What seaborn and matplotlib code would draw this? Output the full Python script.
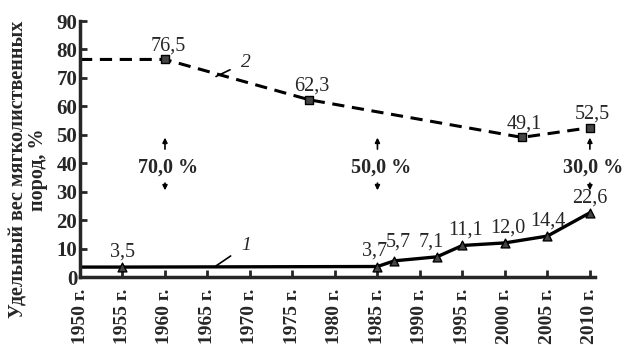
import matplotlib
matplotlib.use('Agg')
import matplotlib.pyplot as plt
import seaborn as sns
import pandas as pd

# Data
years_2 = [1950, 1960, 1977, 2002, 2010]
share_2 = [76.5, 76.5, 62.3, 49.1, 52.5]
years_1 = [1950, 1955, 1985, 1987, 1992, 1995, 2000, 2005, 2010]
share_1 = [3.5, 3.5, 3.7, 5.7, 7.1, 11.1, 12.0, 14.4, 22.6]
labels_2 = ['76,5', '62,3', '49,1', '52,5']
labels_1 = ['3,5', '3,7', '5,7', '7,1', '11,1', '12,0', '14,4', '22,6']
gap_years = [1960, 1985, 2010]
gap_labels = ['70,0 %', '50,0 %', '30,0 %']
xticks = list(range(1950, 2011, 5))
xticklabels = [f'{y} г.' for y in xticks]
yticks = list(range(0, 91, 10))

df2 = pd.DataFrame({'year': years_2, 'share': share_2})
df1 = pd.DataFrame({'year': years_1, 'share': share_1})

sns.set_style('ticks')
plt.rcParams['font.family'] = ['Liberation Serif', 'DejaVu Serif']

fig = plt.figure(figsize=(6.25, 3.45), dpi=100)
ax = fig.add_axes([0.128, 0.197, 0.824, 0.742])

sns.lineplot(data=df2, x='year', y='share', ax=ax, color='black',
             linewidth=2.2, dashes=False, linestyle=(0, (4, 2.5)))
sns.scatterplot(data=df2.iloc[1:], x='year', y='share', ax=ax, marker='s',
                s=40, color='#444444', edgecolor='black', linewidth=1, zorder=3)
sns.lineplot(data=df1, x='year', y='share', ax=ax, color='black', linewidth=2.4)
sns.scatterplot(data=df1.iloc[1:], x='year', y='share', ax=ax, marker='^',
                s=40, color='#444444', edgecolor='black', linewidth=1, zorder=3)

# value labels
for x, y, t in zip(years_2[1:], share_2[1:], labels_2):
    ax.annotate(t, (x, y), xytext=(2, 3), textcoords='offset points',
                ha='center', va='bottom', fontsize=14.5)
offs_1 = [(0, 4), (-2, 4), (3, 7), (-4, 4), (2, 4), (2, 4), (0, 4), (0, 4)]
for x, y, t, o in zip(years_1[1:], share_1[1:], labels_1, offs_1):
    ax.annotate(t, (x, y), xytext=o, textcoords='offset points',
                ha='center', va='bottom', fontsize=14.5)

# gap annotations with arrows
for x, t in zip(gap_years, gap_labels):
    ax.text(x + 0.4, 38.5, t, ha='center', va='center', fontsize=14.5, fontweight='bold')
    ax.annotate('', xy=(x, 50), xytext=(x, 44),
                arrowprops=dict(arrowstyle='-|>', color='black', lw=1.2, mutation_scale=7))
    ax.annotate('', xy=(x, 29.5), xytext=(x, 34),
                arrowprops=dict(arrowstyle='-|>', color='black', lw=1.2, mutation_scale=7))

# curve numbers
ax.annotate('2', xy=(1966, 70.5), xytext=(1969.5, 75.5), fontsize=14, style='italic',
            ha='center', va='center',
            arrowprops=dict(arrowstyle='-', color='black', lw=1.2, shrinkB=0, shrinkA=6))
ax.annotate('1', xy=(1966, 3.9), xytext=(1969.5, 11), fontsize=14, style='italic',
            ha='center', va='center',
            arrowprops=dict(arrowstyle='-', color='black', lw=1.2, shrinkB=0, shrinkA=6))

ax.set_xlim(1950, 2010.6)
ax.set_ylim(0, 90)
ax.set_xticks(xticks)
ax.set_xticklabels(xticklabels, rotation=90, fontsize=14, fontweight='bold')
ax.set_yticks(yticks)
ax.set_yticklabels([str(v) for v in yticks], fontsize=15, fontweight='bold')
ax.tick_params(direction='in', length=5, width=2)
ax.tick_params(axis='x', pad=8)
ax.tick_params(axis='y', pad=2)
ax.set_xlabel('')
ax.set_ylabel('Удельный вес мягколиственных\nпород, %', fontsize=14.5,
              fontweight='bold', linespacing=0.95)
ax.yaxis.set_label_coords(-0.062, 0.42)
for side in ['top', 'right']:
    ax.spines[side].set_visible(False)
for side in ['left', 'bottom']:
    ax.spines[side].set_linewidth(2.5)

fig.savefig('out.png', dpi=100)
